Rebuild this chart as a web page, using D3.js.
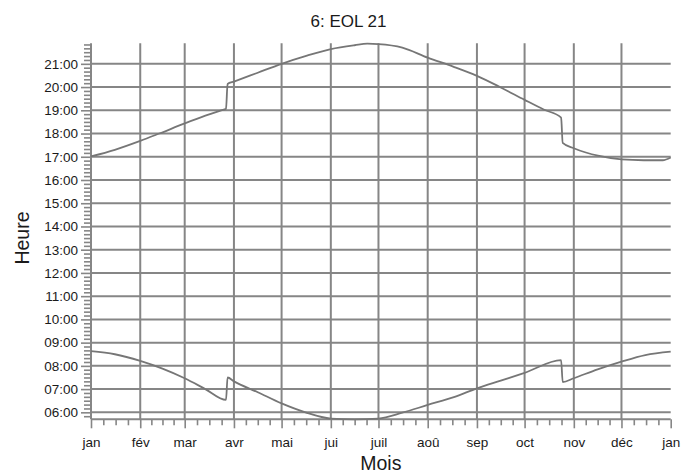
<!DOCTYPE html>
<html>
<head>
<meta charset="utf-8">
<script src="https://cdn.jsdelivr.net/npm/d3@7"></script>
<style>
  html, body { margin: 0; padding: 0; background: #fff; }
  svg { display: block; font-family: "Liberation Sans", Arial, sans-serif; }
</style>
</head>
<body>
<svg id="chart" width="697" height="474"></svg>
<script>
// ---- data (day of year, local time) ----
const monthStartDays = [0, 31, 59, 90, 120, 151, 181, 212, 243, 273, 304, 334, 365];
const monthLabels = ["jan", "fév", "mar", "avr", "mai", "jui", "juil", "aoû", "sep", "oct", "nov", "déc", "jan"];
const hourTicks = ["06:00","07:00","08:00","09:00","10:00","11:00","12:00","13:00","14:00","15:00","16:00","17:00","18:00","19:00","20:00","21:00"];

const sunsetDays  = [0, 15, 31, 43, 59, 72, 82, 85, 86, 90, 105, 120, 136, 151, 166, 174, 181, 196, 212, 228, 243, 258, 273, 285, 296, 297, 304, 320, 334, 348, 360, 365];
const sunsetTimes = ["17:01","17:18","17:41","18:00","18:26","18:46","19:00","19:04","20:08","20:14","20:37","21:00","21:21","21:38","21:48","21:52","21:51","21:42","21:16","20:53","20:29","19:59","19:27","19:02","18:41","17:36","17:22","17:02","16:53","16:51","16:51","16:58"];

const sunriseDays  = [0, 15, 31, 45, 59, 72, 85, 86, 90, 105, 120, 135, 151, 166, 181, 196, 212, 229, 243, 258, 273, 296, 297, 304, 319, 334, 349, 365];
const sunriseTimes = ["08:38","08:30","08:13","07:53","07:28","07:00","06:32","07:30","07:20","06:52","06:23","06:00","05:44","05:42","05:44","05:59","06:19","06:40","07:02","07:22","07:42","08:15","07:18","07:28","07:51","08:11","08:28","08:37"];

const yDomainTimes = ["05:42", "21:53"];
const titleText = "6: EOL 21";
const xTitle = "Mois";
const yTitle = "Heure";

(function () {
// ---- helpers ----
const toMin = s => { const [h, m] = s.split(":").map(Number); return h * 60 + m; };
const fmt = m => String(Math.floor(m / 60)).padStart(2, "0") + ":" + String(m % 60).padStart(2, "0");

const svg = d3.select("#chart");
const pLeft = 91, pRight = 670.7, pTop = 43.3, pBottom = 419.3;
const gridColor = "#868686", lineColor = "#767676", textColor = "#1a1a1a";

const x = d3.scaleLinear().domain([0, 365]).range([pLeft, pRight]);
const y = d3.scaleLinear().domain(yDomainTimes.map(toMin)).range([pBottom, pTop]);

svg.append("rect").attr("width", 697).attr("height", 474).attr("fill", "#fff");

// horizontal grid
const hourMins = hourTicks.map(toMin);
svg.append("g").selectAll("line").data(hourMins).join("line")
  .attr("x1", pLeft).attr("x2", pRight)
  .attr("y1", d => y(d)).attr("y2", d => y(d))
  .attr("stroke", gridColor).attr("stroke-width", 2);
// baseline
svg.append("line").attr("x1", pLeft).attr("x2", pRight)
  .attr("y1", y.range()[0]).attr("y2", y.range()[0])
  .attr("stroke", gridColor).attr("stroke-width", 2);
// vertical grid (month starts)
svg.append("g").selectAll("line").data(monthStartDays.slice(0, 12)).join("line")
  .attr("x1", d => x(d)).attr("x2", d => x(d))
  .attr("y1", pTop).attr("y2", pBottom)
  .attr("stroke", gridColor).attr("stroke-width", 2);

// y minor ticks (every 10 min)
const yMinor = d3.range(Math.ceil(toMin(yDomainTimes[0]) / 10) * 10, toMin(yDomainTimes[1]) + 1, 10)
  .filter(m => m % 60 !== 0);
const yMinorAxis = svg.append("g").attr("transform", `translate(${pLeft},0)`)
  .call(d3.axisLeft(y).tickValues(yMinor).tickSize(7).tickFormat(""));
yMinorAxis.select(".domain").remove();
yMinorAxis.selectAll("line").attr("stroke", gridColor).attr("stroke-width", 1.6);

const yAxis = svg.append("g").attr("transform", `translate(${pLeft},0)`)
  .call(d3.axisLeft(y).tickValues(hourMins).tickSize(10).tickPadding(3).tickFormat(fmt));
yAxis.select(".domain").remove();
yAxis.selectAll("line").attr("stroke", gridColor).attr("stroke-width", 1.6);
yAxis.selectAll("text").attr("fill", textColor)
  .style("font-size", "13.5px").style("font-family", "'Liberation Sans', Arial, sans-serif");

// x minor ticks (quarters of months)
const xMinor = [];
for (let i = 0; i < 12; i++) {
  const a = monthStartDays[i], b = monthStartDays[i + 1];
  for (let k = 1; k <= 3; k++) xMinor.push(a + (b - a) * k / 4);
}
const xMinorAxis = svg.append("g").attr("transform", `translate(0,${pBottom})`)
  .call(d3.axisBottom(x).tickValues(xMinor).tickSize(6).tickFormat(""));
xMinorAxis.select(".domain").remove();
xMinorAxis.selectAll("line").attr("stroke", gridColor).attr("stroke-width", 1.6);

const xAxis = svg.append("g").attr("transform", `translate(0,${pBottom})`)
  .call(d3.axisBottom(x).tickValues(monthStartDays).tickSize(9)
    .tickFormat((d, i) => monthLabels[i]));
xAxis.select(".domain").remove();
xAxis.selectAll("line").attr("stroke", gridColor).attr("stroke-width", 1.6);
xAxis.selectAll("text").attr("fill", textColor).attr("y", 27.5).attr("dy", 0)
  .style("font-size", "13.5px").style("font-family", "'Liberation Sans', Arial, sans-serif");

// curves
const line = d3.line().curve(d3.curveMonotoneX).x(d => x(d[0])).y(d => y(d[1]));
const sunset = sunsetDays.map((d, i) => [d, toMin(sunsetTimes[i])]);
const sunrise = sunriseDays.map((d, i) => [d, toMin(sunriseTimes[i])]);
[sunset, sunrise].forEach(s => {
  svg.append("path").datum(s).attr("d", line)
    .attr("fill", "none").attr("stroke", lineColor).attr("stroke-width", 1.8)
    .attr("stroke-linejoin", "round");
});

// titles
svg.append("text").attr("x", 348.5).attr("y", 27).attr("text-anchor", "middle")
  .attr("fill", textColor).style("font-size", "17px").text(titleText);
svg.append("text").attr("x", (pLeft + pRight) / 2).attr("y", 470).attr("text-anchor", "middle")
  .attr("fill", textColor).style("font-size", "19.5px").text(xTitle);
svg.append("text").attr("transform", "translate(29,238) rotate(-90)").attr("text-anchor", "middle")
  .attr("fill", textColor).style("font-size", "19.5px").text(yTitle);
})();
</script>
</body>
</html>
